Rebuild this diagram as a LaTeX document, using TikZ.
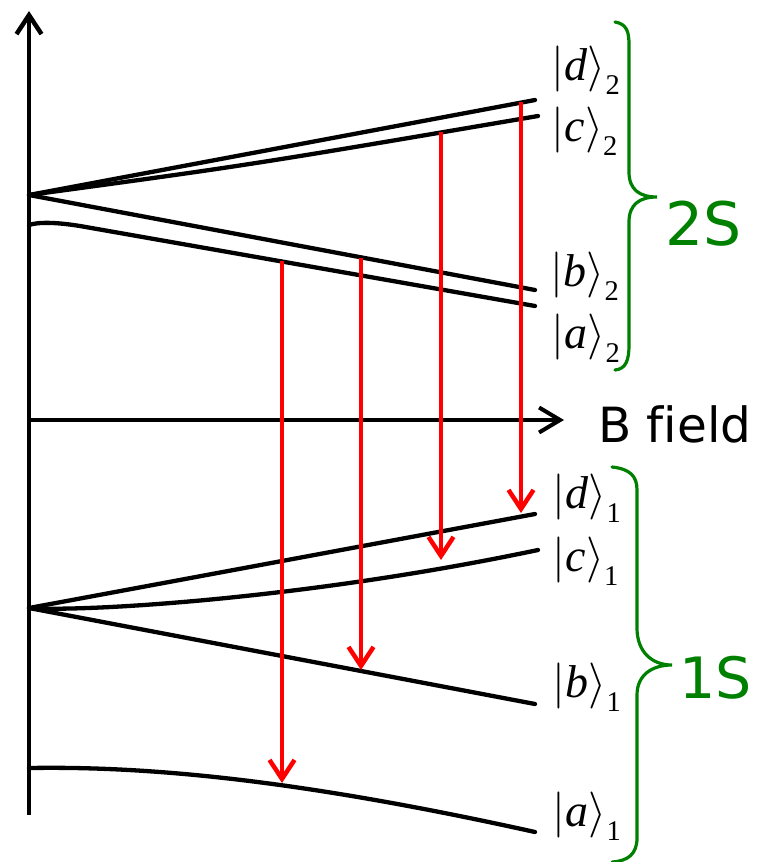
\documentclass[tikz,border=0pt]{standalone}
\usepackage{fontspec}
\newfontfamily\dejavu{DejaVu Sans}[Ligatures=NoCommon]
\newfontfamily\timesf{Liberation Serif}
\usetikzlibrary{arrows.meta}
\definecolor{bgreen}{RGB}{0,128,0}
\definecolor{bred}{RGB}{255,0,0}
\newcommand{\myket}[2]{$|\hbox{\timesf\itshape #1}\rangle\lower3.2pt\hbox{\timesf\fontsize{6.2}{7}\selectfont #2}$}
\begin{document}
\begin{tikzpicture}[x=1pt,y=-1pt,
  level/.style={line width=4.3pt, line cap=round},
  axisline/.style={line width=4.5pt, -{Straight Barb[length=19pt 0 0, width=25pt 0 0]}},
  transition/.style={draw=bred, line width=4.5pt, -{Straight Barb[length=19pt 0 0, width=25pt 0 0]}},
  brace/.style={draw=bgreen, line width=3.2pt, line cap=round},
  ket/.style={anchor=base west, inner sep=0pt, scale=4.6},
  group/.style={anchor=base west, inner sep=0pt, text=bgreen, font=\dejavu\fontsize{60}{62}\selectfont},
  axlabel/.style={anchor=base west, inner sep=0pt, font=\dejavu\fontsize{48.5}{50}\selectfont}]
\useasboundingbox (0,0) rectangle (761,862);

% axes
\coordinate (vbot) at (29,815);
\coordinate (vtop) at (29,11);
\coordinate (hleft) at (29,420);
\coordinate (hright) at (564,420);
\draw[axisline] (vbot) -- (vtop);
\draw[axisline, line width=3.2pt, -{Straight Barb[length=21pt 0 0, width=25pt 0 0, line width=4pt]}] (hleft) -- (hright);
\node[axlabel] (bfield) at (598,442) {B field};

% 2S levels
\coordinate (o2) at (29,195);
\coordinate (d2e) at (535,100);
\coordinate (c2e) at (538,116);
\coordinate (b2e) at (535,290);
\coordinate (a2s) at (29,225);
\coordinate (a2e) at (535,306);
\draw[level] (o2) -- (d2e);
\draw[level] (o2) .. controls (250,165) .. (c2e);
\draw[level] (o2) -- (b2e);
\draw[level] (a2s) .. controls (38,222) and (55,222) .. (80,226) -- (a2e);

% 1S levels
\coordinate (o1) at (29,608);
\coordinate (d1e) at (535,514);
\coordinate (c1e) at (538,550);
\coordinate (b1e) at (535,704);
\coordinate (a1s) at (29,768);
\coordinate (a1e) at (535,832);
\draw[level] (o1) -- (d1e);
\draw[level] (o1) .. controls (80,612) and (300,600) .. (c1e);
\draw[level] (o1) -- (b1e);
\draw[level] (a1s) .. controls (150,766) and (300,780) .. (a1e);

% transitions
\coordinate (t1s) at (282,261); \coordinate (t1e) at (282,783);
\coordinate (t2s) at (361,258); \coordinate (t2e) at (361,670);
\coordinate (t3s) at (441,132); \coordinate (t3e) at (441,560);
\coordinate (t4s) at (521,102); \coordinate (t4e) at (521,513);
\draw[transition] (t1s) -- (t1e);
\draw[transition] (t2s) -- (t2e);
\draw[transition] (t3s) -- (t3e);
\draw[transition] (t4s) -- (t4e);

% state labels
\node[ket] (kd2) at (551,80)  {\myket{d}{2}};
\node[ket] (kc2) at (551,141) {\myket{c}{2}};
\node[ket] (kb2) at (550,286) {\myket{b}{2}};
\node[ket] (ka2) at (551,348) {\myket{a}{2}};
\node[ket] (kd1) at (552,508) {\myket{d}{1}};
\node[ket] (kc1) at (552,571) {\myket{c}{1}};
\node[ket] (kb1) at (552,697) {\myket{b}{1}};
\node[ket] (ka1) at (552,826) {\myket{a}{1}};

% braces
\draw[brace] (615,22) .. controls (627,24) and (629,32) .. (629,45) -- (629,172)
  .. controls (629,190) and (640,197) .. (657,197)
  .. controls (640,197) and (629,204) .. (629,222) -- (629,345)
  .. controls (629,360) and (626,369) .. (615,370);
\node[group] (s2) at (665,245) {2S};

\draw[brace] (612,467) .. controls (630,469) and (637,476) .. (637,490) -- (637,628)
  .. controls (637,652) and (652,665) .. (672,665)
  .. controls (652,665) and (637,675) .. (637,695) -- (637,838)
  .. controls (637,854) and (628,861) .. (612,862);
\node[group, font=\dejavu\fontsize{57}{60}\selectfont] (s1) at (679,698) {1S};
\end{tikzpicture}
\end{document}
